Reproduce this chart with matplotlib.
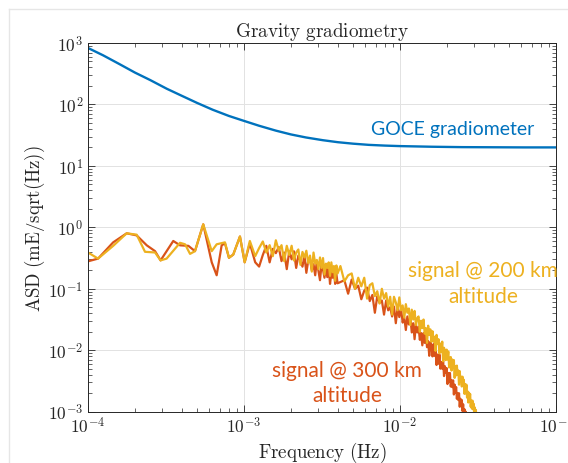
import numpy as np
import matplotlib
matplotlib.use("Agg")
import matplotlib.pyplot as plt
from matplotlib.lines import Line2D
from matplotlib.ticker import FuncFormatter

plt.rcParams['mathtext.fontset'] = 'cm'
plt.rcParams['axes.unicode_minus'] = False

BLUE = '#0072BD'
RED = '#D95319'
YELLOW = '#EDB120'

# GOCE gradiometer noise ASD (mE/sqrt(Hz))
goce_freq = [1e-4, 1.25e-4, 1.6e-4, 2e-4, 2.5e-4, 3.2e-4, 4e-4, 5e-4, 6.3e-4, 8e-4,
             1e-3, 1.25e-3, 1.6e-3, 2e-3, 2.5e-3, 3.2e-3, 4e-3, 5e-3, 6.3e-3, 8e-3,
             1e-2, 1.6e-2, 2.5e-2, 4e-2, 6.3e-2, 1e-1]
goce_asd = [830, 630, 450, 330, 250, 180, 138, 106, 82, 65,
            54, 45, 37.5, 32.5, 29, 26.2, 24.3, 23.0, 22.0, 21.4,
            21.0, 20.5, 20.2, 20.1, 20.0, 20.0]

# signal ASD, low-frequency part (individual spectral lines)
freq_200_lo = [1.00e-4, 1.16e-4, 1.45e-4, 1.77e-4, 2.05e-4, 2.32e-4, 2.69e-4, 2.92e-4,
               3.19e-4, 3.89e-4, 4.19e-4, 4.51e-4, 4.85e-4, 5.48e-4, 6.21e-4, 6.68e-4,
               7.55e-4, 8.01e-4, 8.53e-4, 9.42e-4, 1.01e-3, 1.09e-3, 1.18e-3, 1.25e-3]
asd_200_lo = [0.39, 0.31, 0.50, 0.80, 0.76, 0.40, 0.39, 0.29, 0.31, 0.56, 0.53, 0.37,
              0.41, 1.12, 0.41, 0.53, 0.57, 0.32, 0.36, 0.71, 0.27, 0.60, 0.34, 0.46]

freq_300_lo = [1.00e-4, 1.16e-4, 1.45e-4, 1.77e-4, 2.05e-4, 2.38e-4, 2.69e-4, 2.92e-4,
               3.52e-4, 3.89e-4, 4.40e-4, 4.85e-4, 5.48e-4, 6.21e-4, 6.68e-4, 7.19e-4,
               7.55e-4, 8.01e-4, 8.53e-4, 9.42e-4, 1.01e-3, 1.09e-3, 1.18e-3, 1.25e-3]
asd_300_lo = [0.28, 0.31, 0.57, 0.80, 0.74, 0.51, 0.41, 0.29, 0.60, 0.51, 0.50, 0.41,
              1.12, 0.27, 0.166, 0.51, 0.55, 0.32, 0.36, 0.71, 0.27, 0.55, 0.27, 0.23]

# mid band: 0.07 mHz grid from 1.32 mHz, log10 of ASD
f0_mid = 1.32e-3
df_mid = 7e-5
log_asd_200_mid = [
    -0.23, -0.41, -0.29, -0.47, -0.21, -0.38, -0.29, -0.55, -0.30, -0.45,
    -0.30, -0.54, -0.41, -0.36, -0.61, -0.40, -0.49, -0.38, -0.58, -0.46,
    -0.72, -0.41, -0.59, -0.53, -0.68, -0.49, -0.66, -0.50, -0.77, -0.59,
    -0.66, -0.57, -0.79, -0.57, -0.73, -0.63, -0.87, -0.62, -0.75]
log_asd_300_mid = [
    -0.45, -0.30, -0.57, -0.35, -0.42, -0.32, -0.55, -0.41, -0.68, -0.39,
    -0.52, -0.39, -0.66, -0.46, -0.54, -0.64, -0.46, -0.74, -0.54, -0.52,
    -0.70, -0.60, -0.78, -0.55, -0.71, -0.86, -0.61, -0.69, -0.82, -0.66,
    -0.81, -0.65, -0.92, -0.74, -0.82, -0.71, -0.92, -0.76, -0.91]

# high band: 0.25 mHz grid from 4.15 mHz, log10 of ASD
f0_hi = 4.15e-3
df_hi = 2.5e-4
log_asd_200_hi = [
    -0.63, -0.88, -0.78, -0.75, -1.00, -0.82, -0.96, -0.82, -1.16,
    -0.94, -0.91, -1.12, -1.04, -1.24, -1.00, -1.16, -1.07, -1.29, -1.13,
    -1.42, -1.13, -1.22, -1.35, -1.14, -1.35, -1.27, -1.47, -1.25, -1.39,
    -1.32, -1.59, -1.34, -1.50, -1.36, -1.59, -1.48, -1.45, -1.70, -1.52,
    -1.64, -1.50, -1.73, -1.64, -1.88, -1.60, -1.75, -1.66, -1.86, -1.69,
    -1.86, -1.78, -2.01, -1.75, -1.90, -1.82, -2.05, -1.89, -2.03, -1.86,
    -2.18, -1.96, -2.03, -2.16, -1.99, -2.15, -2.02, -2.28, -2.13, -2.11,
    -2.33, -2.15, -2.29, -2.16, -2.45, -2.26, -2.41, -2.25, -2.40, -2.33,
    -2.56, -2.34, -2.51, -2.43, -2.59, -2.43, -2.55, -2.48, -2.71, -2.55,
    -2.70, -2.56, -2.77, -2.67, -2.85, -2.69, -2.82, -2.71, -2.92, -2.82,
    -2.95, -2.82, -2.96, -2.87, -3.05, -2.93, -3.06, -2.97, -3.11, -3.03,
    -3.12]
log_asd_300_hi = [
    -0.89, -0.86, -1.08, -0.85, -1.00, -0.95, -1.17, -1.03, -0.98,
    -1.20, -1.10, -1.39, -1.12, -1.23, -1.19, -1.42, -1.19, -1.35, -1.30,
    -1.45, -1.29, -1.56, -1.31, -1.46, -1.32, -1.55, -1.47, -1.67, -1.45,
    -1.58, -1.47, -1.71, -1.56, -1.82, -1.58, -1.71, -1.62, -1.83, -1.72,
    -1.92, -1.72, -1.88, -1.73, -1.95, -1.85, -2.09, -1.87, -1.94, -2.10,
    -1.90, -2.09, -1.99, -2.24, -2.07, -2.22, -2.07, -2.30, -2.19, -2.30,
    -2.17, -2.42, -2.26, -2.37, -2.29, -2.55, -2.37, -2.51, -2.37, -2.59,
    -2.49, -2.60, -2.49, -2.72, -2.56, -2.69, -2.60, -2.79, -2.70, -2.81,
    -2.70, -2.92, -2.79, -2.89, -2.81, -2.99, -2.88, -3.06, -2.96, -3.07,
    -3.00, -3.18, -3.09, -3.25, -3.14, -3.26, -3.20, -3.34, -3.27, -3.40,
    -3.33, -3.46, -3.40, -3.52, -3.45, -3.58, -3.50, -3.62, -3.56, -3.67,
    -3.60]


def assemble(freq_lo, asd_lo, log_mid, log_hi):
    f = np.concatenate([freq_lo,
                        f0_mid + df_mid * np.arange(len(log_mid)),
                        f0_hi + df_hi * np.arange(len(log_hi))])
    a = np.concatenate([asd_lo, 10.0 ** np.array(log_mid), 10.0 ** np.array(log_hi)])
    return f, a


freq_200, asd_200 = assemble(freq_200_lo, asd_200_lo, log_asd_200_mid, log_asd_200_hi)
freq_300, asd_300 = assemble(freq_300_lo, asd_300_lo, log_asd_300_mid, log_asd_300_hi)

fig = plt.figure(figsize=(5.68, 4.64), dpi=100)
ax = fig.add_axes([88 / 568, 1 - 412.7 / 464, 468 / 568, 368.7 / 464])

ax.loglog(goce_freq, goce_asd, color=BLUE, lw=1.7)
ax.loglog(freq_300, asd_300, color=RED, lw=1.6)
ax.loglog(freq_200, asd_200, color=YELLOW, lw=1.6)

ax.set_xlim(1e-4, 1e-1)
ax.set_ylim(1e-3, 1e3)
ax.set_xticks([1e-4, 1e-3, 1e-2, 1e-1])
ax.set_yticks([1e-3, 1e-2, 1e-1, 1e0, 1e1, 1e2, 1e3])
pow10 = FuncFormatter(lambda v, _: r'$10^{%d}$' % round(np.log10(v)))
ax.xaxis.set_major_formatter(pow10)
ax.yaxis.set_major_formatter(pow10)

ax.grid(True, which='major', color='#e2e2e2', lw=0.7)
ax.set_axisbelow(True)
ax.tick_params(which='both', direction='in', top=True, right=True, colors='#262626',
               labelsize=12.5)
ax.tick_params(which='major', length=5, width=0.6)
ax.tick_params(which='minor', length=3, width=0.5)
for s in ax.spines.values():
    s.set_color('#262626')
    s.set_linewidth(0.7)

ax.set_title(r'$\mathrm{Gravity\ gradiometry}$', fontsize=13.8, pad=5, color='#262626')
ax.set_xlabel(r'$\mathrm{Frequency\ (Hz)}$', fontsize=13.6, color='#262626', labelpad=2)
ax.set_ylabel(r'$\mathrm{ASD\ (mE/sqrt(Hz))}$', fontsize=13.6, color='#262626', labelpad=1)

lbl = dict(family=['Lato', 'DejaVu Sans'], ha='center', va='center', linespacing=1.35)
ax.text(2.19e-2, 40, 'GOCE gradiometer', color=BLUE, fontsize=14, **lbl)
ax.text(3.4e-2, 0.124, 'signal @ 200 km\naltitude', color=YELLOW, fontsize=15, **lbl)
ax.text(4.57e-3, 0.0030, 'signal @ 300 km\naltitude', color=RED, fontsize=15, **lbl)

# thin frame lines around the panel
fig.add_artist(Line2D([9 / 568, 9 / 568], [0, 1 - 10 / 464], color='#e6e6e6', lw=1))
fig.add_artist(Line2D([9 / 568, 1], [1 - 10 / 464, 1 - 10 / 464], color='#e6e6e6', lw=1))

fig.savefig('out.png', dpi=100)
